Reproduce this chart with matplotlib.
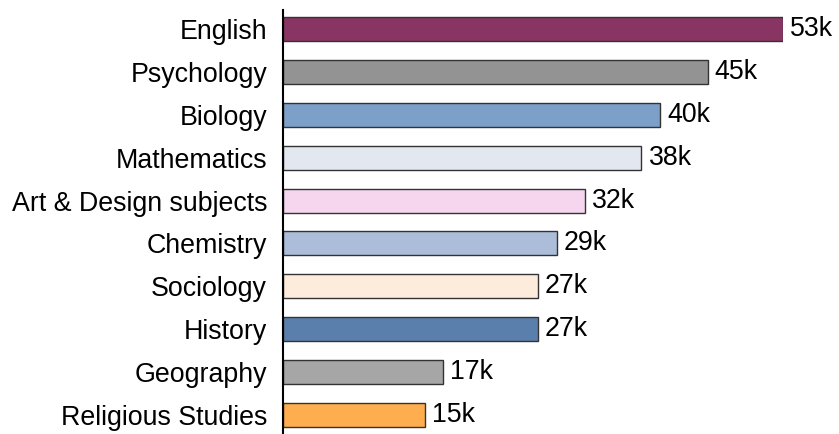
import matplotlib.pyplot as plt

subjects = ["English", "Psychology", "Biology", "Mathematics", "Art & Design subjects",
            "Chemistry", "Sociology", "History", "Geography", "Religious Studies"]
values = [53, 45, 40, 38, 32, 29, 27, 27, 17, 15]
labels = ["53k", "45k", "40k", "38k", "32k", "29k", "27k", "27k", "17k", "15k"]
colors = ["#893563", "#939393", "#7DA0C8", "#E3E8F0", "#F6D5EF",
          "#ABBDD9", "#FDEBDC", "#5B7FAD", "#A6A6A6", "#FEAD4F"]

plt.rcParams["font.family"] = ["Liberation Sans", "DejaVu Sans"]

fig = plt.figure(figsize=(8.39, 4.34), dpi=100)
ax = fig.add_axes([283 / 839, 0, 500 / 839, 424 / 434])

y = list(range(len(subjects)))
ax.barh(y, values, height=0.56, color=colors, edgecolor="#333333", linewidth=1)
for yi, v, lab in zip(y, values, labels):
    ax.text(v + 0.75, yi, lab, va="center", ha="left", fontsize=19.3)

ax.set_xlim(0, 53)
ax.set_ylim(len(subjects) - 1 + 0.44, -0.44)
ax.set_yticks(y)
ax.set_yticklabels(subjects, fontsize=19.3)
ax.tick_params(axis="y", length=0, pad=11.5)
ax.set_xticks([])
for s in ["top", "right", "bottom"]:
    ax.spines[s].set_visible(False)
ax.spines["left"].set_linewidth(1.5)
ax.spines["left"].set_color("black")

fig.savefig("out.png", dpi=100)
